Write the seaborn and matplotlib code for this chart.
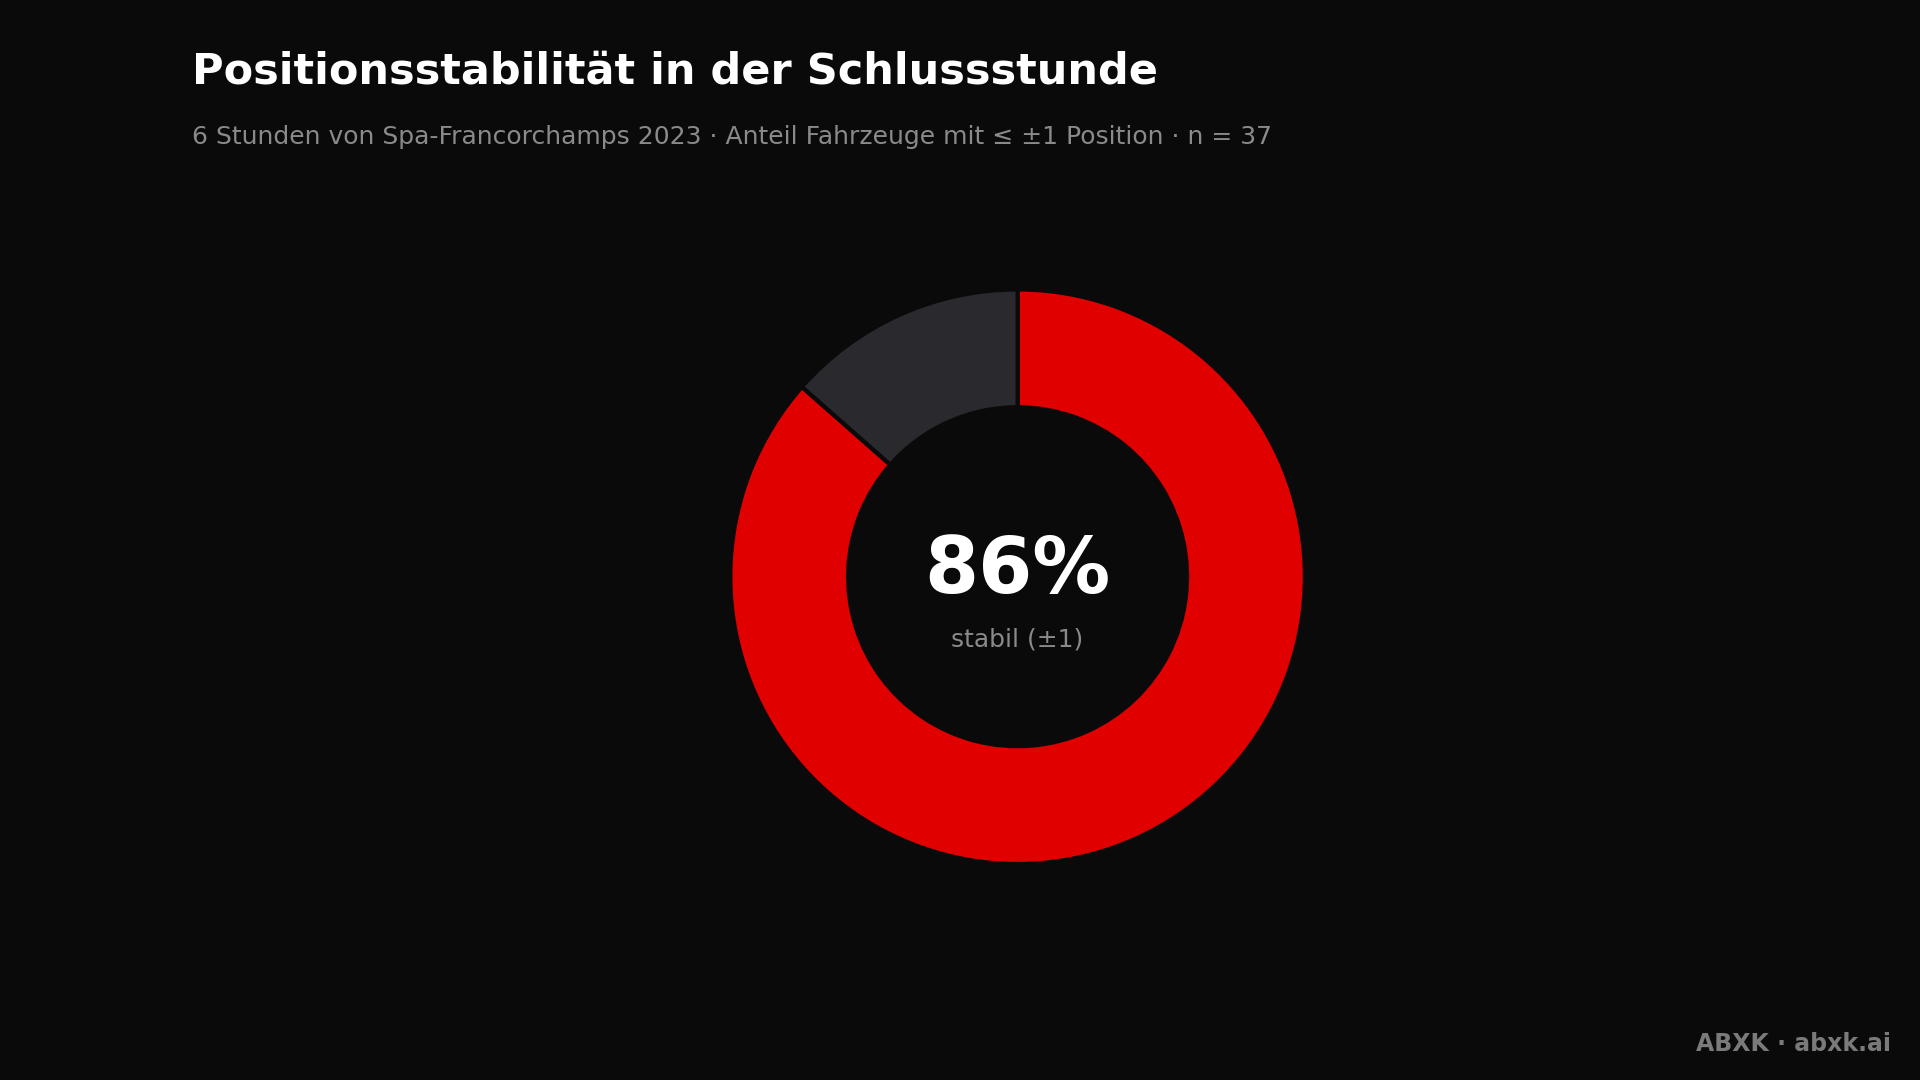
import matplotlib
matplotlib.use("Agg")
import matplotlib.pyplot as plt
import seaborn as sns

sns.set_theme(style="dark")
plt.rcParams['font.family'] = ['DejaVu Sans']

labels = ["stabil (±1)", "instabil"]
values = [32, 5]
colors = ["#e00000", "#2a2a2e"]
bg = "#0a0a0a"

fig = plt.figure(figsize=(19.2, 10.8), dpi=100, facecolor=bg)
r_h = 0.266
w = 2 * r_h * 1080 / 1920
cx, cy = 0.53, 0.466
ax = fig.add_axes([cx - w / 2, cy - r_h, w, 2 * r_h])
ax.set_facecolor(bg)
ax.pie(values, colors=colors, startangle=90, counterclock=False,
       wedgeprops=dict(width=0.41, edgecolor=bg, linewidth=3))
ax.set_xlim(-1, 1); ax.set_ylim(-1, 1)
ax.set_aspect("equal")
ax.axis("off")

pct = round(100 * values[0] / sum(values))
ax.text(0, 0.02, f"{pct}%", ha="center", va="center", color="white",
        fontsize=56, fontweight="bold")
ax.text(0, -0.22, labels[0], ha="center", va="center", color="#8a8a8a", fontsize=18)

fig.text(0.1, 0.934, "Positionsstabilität in der Schlussstunde", color="white",
         fontsize=31, fontweight="bold", ha="left", va="center")
fig.text(0.1, 0.873, "6 Stunden von Spa-Francorchamps 2023 · Anteil Fahrzeuge mit ≤ ±1 Position · n = 37",
         color="#8a8a8a", fontsize=18, ha="left", va="center")
fig.text(0.985, 0.033, "ABXK · abxk.ai", color="#7a7a7a", fontsize=17,
         fontweight="bold", ha="right", va="center")

fig.savefig("out.png", dpi=100, facecolor=bg)
